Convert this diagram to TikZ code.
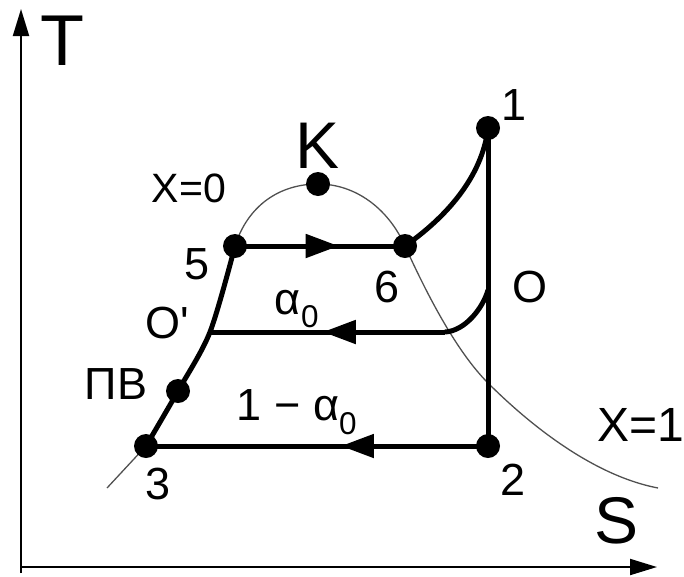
\documentclass[tikz,border=0pt]{standalone}
\usepackage{fontspec}
\setmainfont{Liberation Sans}
\usetikzlibrary{arrows.meta, decorations.markings}
\definecolor{DomeGray}{RGB}{80,80,80}

\begin{document}
\begin{tikzpicture}[x=1pt, y=-1pt,
    state/.style={circle, fill=black, inner sep=0pt, minimum size=24pt},
    cyc/.style={line width=5pt},
    sat/.style={DomeGray, line width=1.3pt},
    axis/.style={line width=2pt, -{Triangle[length=27pt, width=16pt]}},
    lbl/.style={font=\fontsize{45}{45}\selectfont},
    big/.style={font=\fontsize{66}{66}\selectfont},
    flow/.style={postaction={decorate},
                 decoration={markings, mark=at position #1 with
                   {\arrow{Triangle[length=33pt, width=23pt]}}}}
  ]
  \useasboundingbox (0,0) rectangle (684,576);

  % Axes
  \coordinate (orig) at (21,567);
  \coordinate (tend) at (21,9);
  \coordinate (send) at (657,567);
  \draw[axis] (21,573) -- (tend);
  \draw[axis] (orig) -- (send);
  \node[big, font=\fontsize{72}{72}\selectfont] (tlab) at (62,41) {T};
  \node[big] (slab) at (616,521) {S};

  % Cycle points
  \coordinate (p1) at (488,128);
  \coordinate (p2) at (488,446);
  \coordinate (p3) at (146,446);
  \coordinate (pPV) at (178,391);
  \coordinate (pOp) at (210,332);
  \coordinate (p5) at (235,246);
  \coordinate (p6) at (405,246);
  \coordinate (pK) at (318,184);
  \coordinate (pO) at (488,290);
  \coordinate (pE) at (445,332);
  \coordinate (pX) at (107,488);
  \coordinate (pC) at (488,383);
  \coordinate (pY) at (658,488);

  % Saturation lines
  \draw[sat] (p3) -- (pX);
  \draw[sat] (p5) .. controls (248,205) and (280,184) .. (pK)
                  .. controls (355,184) and (388,208) .. (p6)
                  .. controls (425,290) and (455,350) .. (pC)
                  .. controls (525,420) and (590,475) .. (pY);

  % Cycle
  \draw[cyc] plot[smooth] coordinates {(p3) (pPV) (pOp) (p5)};
  \draw[cyc, flow=0.61] (p5) -- (p6);
  \draw[cyc] (p6) .. controls (445,218) and (482,178) .. (p1);
  \draw[cyc] (p1) -- (p2);
  \draw[cyc, flow=0.43] (p2) -- (p3);
  \draw[cyc] (pO) .. controls (483,308) and (465,331) .. (pE);
  \draw[cyc, flow=0.52] (pE) -- (pOp);

  % Points
  \foreach \p in {p1, p2, p3, pPV, p5, p6, pK}
    \node[state] at (\p) {};

  % Labels
  \node[big] (klab) at (318,146) {K};
  \node[lbl, font=\fontsize{41}{41}\selectfont] (x0lab) at (189,188) {X=0};
  \node[lbl, font=\fontsize{48}{48}\selectfont] (x1lab) at (641,425) {X=1};
  \node[lbl] (l1) at (514,105) {1};
  \node[lbl] (l2) at (513,480) {2};
  \node[lbl] (l3) at (158,484) {3};
  \node[lbl] (l5) at (197,264) {5};
  \node[lbl] (l6) at (387,287) {6};
  \node[lbl] (lO) at (530,287) {O};
  \node[lbl] (lOp) at (167,323) {O\textquotesingle};
  \node[lbl] (lPV) at (116,384) {ПВ};
  \node[lbl] (la0) at (297,309) {α\textsubscript{0}};
  \node[lbl] (l1a0) at (297,412) {1 − α\textsubscript{0}};
\end{tikzpicture}
\end{document}
